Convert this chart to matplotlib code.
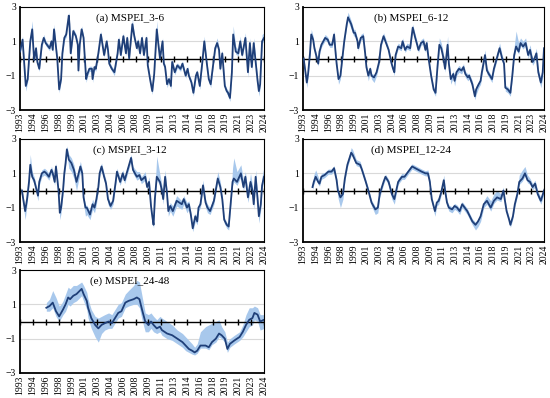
import matplotlib
matplotlib.use("Agg")
import matplotlib.pyplot as plt

plt.rcParams['font.family'] = ['Liberation Serif', 'DejaVu Serif']

# month index from Jan 1993; labels every 20 months
tick_pos = list(range(0, 381, 20))
tick_labels = ["1993", "1994", "1996", "1998", "1999", "2001", "2003", "2004", "2006", "2008",
               "2009", "2011", "2013", "2014", "2016", "2018", "2019", "2021", "2023", "2024"]

# (a) MSPEI_3-6
m_a = [0, 4, 9, 12, 16, 19, 22, 25, 27, 30,
       34, 37, 40, 46, 49, 51, 53, 58, 61, 64,
       66, 69, 72, 76, 77, 79, 83, 87, 90, 91,
       93, 96, 99, 103, 105, 108, 112, 113, 116, 118,
       122, 126, 131, 135, 137, 139, 143, 147, 152, 154,
       157, 161, 165, 167, 170, 175, 178, 182, 184, 187,
       190, 193, 197, 199, 203, 206, 209, 213, 215, 218,
       222, 224, 226, 229, 232, 235, 237, 241, 245, 250,
       253, 258, 261, 263, 267, 270, 274, 276, 280, 284,
       287, 291, 294, 297, 304, 307, 310, 312, 315, 319,
       322, 324, 327, 330, 332, 336, 340, 343, 346, 351,
       355, 358, 361, 364, 367, 370, 372, 374, 377, 380]
v_a = [0.4, 1.1, -1.6, -1.2, 1.0, 1.7, -0.1, 0.6, -0.2, -0.6,
       0.8, 1.2, 0.9, 0.6, 1.0, 0.5, 1.7, 0.0, -1.8, -1.2,
       0.3, 1.2, 1.4, 2.5, 2.0, 0.3, 1.6, 1.3, 0.8, -0.7,
       0.8, 1.7, 1.2, -1.2, -0.9, -0.6, -0.6, -1.2, -0.5, -0.6,
       0.3, 1.4, 0.2, 1.0, 0.5, -0.3, -0.6, -0.8, 0.3, 1.1,
       0.2, 1.3, 0.3, 1.2, 0.0, 2.0, 1.3, 0.6, 1.0, 0.3,
       1.2, 0.2, 1.2, -0.4, -1.3, -1.9, -0.9, 1.7, 1.0, 0.0,
       1.0, -0.3, -0.5, -1.5, -1.2, -1.6, -0.2, -0.8, -0.4, -0.6,
       -0.3, -1.0, -0.6, -1.0, -1.4, -2.0, -1.0, -0.8, -1.6, -0.2,
       1.0, -0.3, -1.2, -1.5, 0.6, 0.9, 0.5, -0.6, 0.3, -1.6,
       -1.9, -2.0, -2.3, -0.8, 1.4, 0.4, 0.3, 1.0, 0.2, 1.2,
       -0.8, 0.9, -0.5, 0.9, -0.2, -1.3, -1.9, -1.5, 1.0, 1.2]
hi_a = [0.15, 0.2, 0.2, 0.15, 0.3, 0.5, 0.15, 0.15, 0.15, 0.15,
        0.2, 0.2, 0.15, 0.15, 0.15, 0.15, 0.3, 0.15, 0.15, 0.15,
        0.15, 0.2, 0.2, 0.2, 0.2, 0.15, 0.15, 0.15, 0.15, 0.15,
        0.15, 0.2, 0.15, 0.15, 0.15, 0.15, 0.15, 0.2, 0.15, 0.15,
        0.15, 0.2, 0.15, 0.15, 0.15, 0.15, 0.15, 0.15, 0.15, 0.2,
        0.15, 0.2, 0.15, 0.2, 0.15, 0.3, 0.15, 0.15, 0.2, 0.15,
        0.2, 0.15, 0.2, 0.15, 0.15, 0.15, 0.15, 0.5, 0.2, 0.15,
        0.2, 0.15, 0.15, 0.15, 0.15, 0.15, 0.2, 0.15, 0.15, 0.15,
        0.15, 0.15, 0.15, 0.15, 0.15, 0.15, 0.15, 0.15, 0.15, 0.15,
        0.3, 0.15, 0.15, 0.15, 0.2, 0.3, 0.15, 0.15, 0.2, 0.15,
        0.15, 0.15, 0.15, 0.2, 0.5, 0.3, 0.2, 0.3, 0.2, 0.3,
        0.2, 0.3, 0.2, 0.3, 0.2, 0.2, 0.15, 0.2, 0.4, 0.3]
lo_a = [0.15, 0.15, 0.3, 0.15, 0.15, 0.15, 0.15, 0.15, 0.15, 0.15,
        0.15, 0.15, 0.15, 0.15, 0.15, 0.15, 0.15, 0.15, 0.2, 0.15,
        0.15, 0.15, 0.15, 0.15, 0.15, 0.15, 0.15, 0.15, 0.15, 0.2,
        0.15, 0.15, 0.15, 0.2, 0.15, 0.15, 0.15, 0.2, 0.15, 0.15,
        0.15, 0.15, 0.15, 0.15, 0.15, 0.15, 0.15, 0.2, 0.15, 0.15,
        0.15, 0.15, 0.15, 0.15, 0.15, 0.15, 0.15, 0.15, 0.15, 0.15,
        0.15, 0.15, 0.15, 0.15, 0.2, 0.2, 0.15, 0.15, 0.15, 0.15,
        0.15, 0.15, 0.15, 0.2, 0.15, 0.2, 0.15, 0.15, 0.15, 0.15,
        0.15, 0.15, 0.15, 0.15, 0.15, 0.2, 0.15, 0.15, 0.2, 0.15,
        0.15, 0.15, 0.15, 0.2, 0.15, 0.15, 0.15, 0.15, 0.15, 0.2,
        0.15, 0.2, 0.2, 0.15, 0.15, 0.15, 0.15, 0.15, 0.15, 0.15,
        0.3, 0.15, 0.2, 0.15, 0.2, 0.2, 0.3, 0.2, 0.15, 0.15]

# (b) MSPEI_6-12
m_b = [1, 6, 8, 11, 13, 16, 18, 22, 24, 26,
       29, 32, 35, 39, 42, 46, 49, 51, 53, 56,
       59, 62, 65, 69, 71, 76, 80, 82, 86, 87,
       91, 95, 98, 100, 103, 106, 108, 112, 116, 120,
       123, 127, 130, 135, 139, 142, 144, 146, 150, 155,
       157, 161, 164, 169, 173, 177, 180, 182, 186, 190,
       193, 195, 198, 202, 206, 209, 212, 215, 218, 221,
       224, 228, 230, 233, 237, 239, 242, 246, 250, 253,
       256, 260, 262, 267, 271, 273, 277, 280, 282, 287,
       290, 293, 298, 301, 310, 314, 317, 319, 323, 327,
       330, 333, 336, 340, 343, 347, 351, 355, 358, 362,
       365, 368, 371, 375, 378, 380]
v_b = [0.0, -1.4, -0.9, 0.3, 1.4, 1.1, 0.6, 0.0, -0.3, 0.4,
       0.8, 1.0, 1.2, 1.1, 0.8, 0.8, 1.4, 0.5, -0.3, -1.2,
       -1.0, 0.0, 1.0, 2.0, 2.4, 2.0, 1.5, 1.5, 1.0, 0.6,
       1.2, 1.3, 0.3, -0.5, -1.0, -0.6, -1.0, -1.1, -0.8, -0.2,
       0.8, 1.3, 1.0, 0.5, -0.2, -0.6, -0.8, 0.2, 0.7, 0.6,
       1.0, 0.5, 0.7, 0.6, 1.8, 1.2, 0.8, 0.5, 0.9, 1.0,
       0.5, 0.9, 0.0, -1.0, -1.8, -2.0, -0.5, 0.8, 0.6, 0.1,
       -0.6, 0.8, -0.3, -1.2, -0.9, -1.3, -0.8, -0.6, -0.7, -0.5,
       -0.9, -1.1, -1.0, -1.5, -2.2, -1.8, -1.5, -1.3, -0.8, 0.2,
       -0.7, -0.9, -1.2, -0.6, 0.6, 0.0, -0.3, -1.7, -1.8, -2.0,
       -1.0, 0.2, 0.7, 0.4, 0.9, 0.7, 0.9, 0.2, 0.5, -0.2,
       0.0, 0.3, -0.8, -1.4, -0.8, 0.6]
hi_b = [0.1, 0.15, 0.15, 0.2, 0.3, 0.2, 0.15, 0.15, 0.15, 0.15,
        0.15, 0.2, 0.2, 0.15, 0.15, 0.2, 0.2, 0.15, 0.15, 0.15,
        0.15, 0.15, 0.2, 0.3, 0.3, 0.2, 0.2, 0.2, 0.15, 0.15,
        0.2, 0.2, 0.15, 0.15, 0.15, 0.15, 0.15, 0.15, 0.15, 0.15,
        0.2, 0.2, 0.2, 0.15, 0.15, 0.15, 0.15, 0.15, 0.2, 0.15,
        0.2, 0.15, 0.2, 0.2, 0.2, 0.2, 0.2, 0.2, 0.2, 0.2,
        0.15, 0.2, 0.15, 0.15, 0.15, 0.15, 0.2, 0.4, 0.3, 0.3,
        0.2, 0.5, 0.2, 0.15, 0.2, 0.15, 0.2, 0.2, 0.15, 0.2,
        0.15, 0.2, 0.15, 0.2, 0.15, 0.2, 0.15, 0.2, 0.2, 0.3,
        0.2, 0.15, 0.15, 0.2, 0.3, 0.2, 0.2, 0.15, 0.15, 0.15,
        0.2, 0.5, 0.9, 0.5, 0.3, 0.3, 0.3, 0.2, 0.3, 0.2,
        0.2, 0.3, 0.2, 0.2, 0.3, 0.3]
lo_b = [0.15, 0.3, 0.2, 0.15, 0.15, 0.15, 0.15, 0.15, 0.15, 0.15,
        0.15, 0.15, 0.15, 0.15, 0.15, 0.15, 0.15, 0.15, 0.15, 0.3,
        0.2, 0.15, 0.15, 0.15, 0.2, 0.3, 0.2, 0.2, 0.2, 0.15,
        0.15, 0.15, 0.15, 0.2, 0.3, 0.2, 0.2, 0.3, 0.2, 0.15,
        0.15, 0.15, 0.15, 0.15, 0.15, 0.15, 0.2, 0.15, 0.15, 0.15,
        0.15, 0.15, 0.15, 0.15, 0.15, 0.15, 0.15, 0.15, 0.15, 0.15,
        0.15, 0.15, 0.15, 0.15, 0.2, 0.2, 0.2, 0.15, 0.15, 0.15,
        0.2, 0.15, 0.2, 0.3, 0.2, 0.3, 0.2, 0.2, 0.2, 0.2,
        0.2, 0.2, 0.2, 0.2, 0.2, 0.3, 0.2, 0.2, 0.2, 0.15,
        0.2, 0.2, 0.2, 0.15, 0.15, 0.15, 0.2, 0.2, 0.2, 0.2,
        0.2, 0.15, 0.15, 0.15, 0.15, 0.15, 0.15, 0.2, 0.15, 0.2,
        0.2, 0.15, 0.3, 0.3, 0.3, 0.2]

# (c) MSPEI_3-12
m_c = [3, 5, 8, 11, 14, 16, 19, 22, 28, 30,
       34, 38, 41, 45, 49, 51, 54, 56, 60, 62,
       64, 67, 69, 71, 73, 76, 80, 84, 88, 94,
       97, 99, 102, 104, 109, 113, 116, 119, 122, 124,
       127, 131, 134, 137, 141, 145, 149, 151, 156, 160,
       163, 173, 176, 182, 186, 189, 195, 198, 201, 204,
       206, 208, 210, 213, 218, 221, 223, 226, 229, 231,
       234, 238, 244, 252, 255, 260, 263, 266, 269, 273,
       276, 278, 281, 285, 289, 292, 296, 302, 308, 312,
       315, 318, 322, 325, 328, 331, 333, 338, 344, 348,
       351, 355, 359, 362, 364, 367, 370, 372, 375, 377,
       380]
v_c = [0.0, -0.5, -1.2, -0.5, 0.5, 1.5, 0.8, 0.6, -0.3, 0.5,
       1.0, 1.1, 1.0, 0.8, 1.2, 1.0, 0.5, 1.4, 0.0, -1.3,
       -1.0, 0.0, 1.0, 1.6, 2.4, 1.8, 1.6, 1.2, 0.5, 1.4,
       1.0, -0.4, -1.0, -1.0, -1.4, -0.8, -1.0, -0.5, 0.2, 1.0,
       1.4, 0.8, 0.4, -0.5, -0.9, -0.6, 0.5, 1.1, 0.5, 1.0,
       0.6, 1.9, 1.2, 0.8, 0.9, 0.6, 0.8, 0.2, 0.5, -0.9,
       -1.5, -2.0, -0.5, 0.8, 0.5, 0.0, -0.5, 0.8, -0.2, -1.2,
       -0.9, -1.2, -0.6, -0.8, -0.5, -1.0, -0.8, -1.4, -2.2, -1.5,
       -1.8, -1.0, -0.8, 0.3, -0.7, -1.0, -1.2, -0.6, 0.7, 0.2,
       -0.5, -1.7, -2.0, -2.1, -0.8, 0.5, 0.7, 0.5, 1.0, 0.2,
       0.8, -0.4, 0.5, 0.0, -0.8, 0.8, -0.5, -1.5, -0.8, 0.3,
       0.8]
hi_c = [0.15, 0.15, 0.15, 0.2, 0.3, 0.6, 0.3, 0.2, 0.15, 0.2,
        0.2, 0.2, 0.2, 0.2, 0.2, 0.2, 0.2, 0.2, 0.15, 0.15,
        0.15, 0.2, 0.2, 0.3, 0.2, 0.3, 0.3, 0.3, 0.2, 0.3,
        0.2, 0.15, 0.15, 0.15, 0.2, 0.3, 0.2, 0.2, 0.2, 0.2,
        0.2, 0.2, 0.2, 0.15, 0.15, 0.15, 0.2, 0.2, 0.2, 0.2,
        0.2, 0.2, 0.2, 0.3, 0.2, 0.2, 0.3, 0.2, 0.3, 0.15,
        0.15, 0.15, 0.5, 1.2, 0.4, 0.3, 0.2, 0.4, 0.2, 0.15,
        0.2, 0.3, 0.3, 0.2, 0.2, 0.3, 0.2, 0.2, 0.15, 0.2,
        0.2, 0.2, 0.2, 0.3, 0.2, 0.2, 0.2, 0.3, 0.4, 0.3,
        0.2, 0.15, 0.15, 0.15, 0.2, 0.8, 1.2, 0.6, 0.5, 0.4,
        0.3, 0.3, 0.5, 0.3, 0.3, 0.4, 0.3, 0.2, 0.3, 0.5,
        0.6]
lo_c = [0.2, 0.3, 0.5, 0.3, 0.2, 0.2, 0.2, 0.2, 0.3, 0.2,
        0.2, 0.2, 0.2, 0.2, 0.2, 0.2, 0.2, 0.2, 0.3, 0.4,
        0.3, 0.2, 0.2, 0.2, 0.2, 0.5, 0.5, 0.5, 0.5, 0.3,
        0.3, 0.4, 0.5, 0.4, 0.3, 0.3, 0.3, 0.3, 0.2, 0.2,
        0.2, 0.2, 0.2, 0.3, 0.2, 0.2, 0.2, 0.2, 0.2, 0.2,
        0.2, 0.2, 0.2, 0.2, 0.2, 0.2, 0.2, 0.2, 0.2, 0.3,
        0.3, 0.2, 0.3, 0.2, 0.2, 0.2, 0.3, 0.2, 0.3, 0.3,
        0.3, 0.3, 0.3, 0.3, 0.3, 0.3, 0.3, 0.3, 0.2, 0.3,
        0.2, 0.2, 0.2, 0.2, 0.3, 0.3, 0.2, 0.2, 0.2, 0.2,
        0.3, 0.2, 0.2, 0.2, 0.2, 0.2, 0.2, 0.2, 0.2, 0.2,
        0.3, 0.3, 0.3, 0.3, 0.3, 0.3, 0.3, 0.4, 0.3, 0.2,
        0.2]

# (d) MSPEI_12-24
m_d = [15, 17, 20, 24, 26, 29, 34, 40, 45, 49,
       53, 55, 59, 63, 66, 70, 76, 78, 84, 90,
       93, 99, 103, 108, 114, 118, 121, 127, 130, 135,
       140, 144, 147, 150, 156, 160, 172, 177, 182, 187,
       193, 197, 200, 203, 208, 211, 214, 218, 222, 224,
       227, 230, 235, 239, 243, 247, 251, 259, 267, 272,
       276, 280, 285, 290, 296, 301, 306, 312, 316, 318,
       321, 325, 327, 331, 334, 338, 341, 346, 350, 354,
       358, 362, 366, 370, 375, 380]
v_d = [0.2, 0.5, 0.8, 0.5, 0.4, 0.8, 0.9, 1.1, 1.1, 1.3,
       0.6, 0.0, -0.4, -0.2, 0.7, 1.5, 2.2, 2.1, 1.6, 1.5,
       1.2, 0.5, 0.0, -0.7, -1.1, -1.0, -0.2, 0.5, 0.8, 0.5,
       -0.2, -0.5, 0.0, 0.5, 0.8, 0.8, 1.4, 1.3, 1.2, 1.1,
       1.0, 1.0, 0.5, -0.5, -1.2, -0.7, -0.6, -0.1, 0.6, 0.0,
       -0.7, -1.0, -1.1, -0.9, -1.0, -1.2, -0.8, -1.2, -1.8, -2.0,
       -1.8, -1.5, -0.8, -0.6, -1.0, -0.6, -0.4, -0.5, 0.0, -0.5,
       -1.2, -1.7, -2.0, -1.5, -0.8, -0.2, 0.5, 0.7, 1.0, 0.6,
       0.5, 0.2, 0.4, -0.2, -0.6, 0.0]
hi_d = [0.2, 0.4, 0.4, 0.3, 0.2, 0.2, 0.15, 0.15, 0.15, 0.15,
        0.15, 0.15, 0.15, 0.15, 0.2, 0.2, 0.3, 0.3, 0.2, 0.2,
        0.15, 0.15, 0.15, 0.15, 0.15, 0.15, 0.15, 0.15, 0.15, 0.15,
        0.15, 0.15, 0.2, 0.2, 0.2, 0.15, 0.15, 0.15, 0.15, 0.15,
        0.15, 0.2, 0.2, 0.15, 0.15, 0.2, 0.2, 0.2, 0.3, 0.2,
        0.15, 0.15, 0.15, 0.15, 0.15, 0.15, 0.15, 0.15, 0.15, 0.15,
        0.15, 0.15, 0.2, 0.3, 0.4, 0.4, 0.4, 0.3, 0.2, 0.15,
        0.15, 0.15, 0.15, 0.15, 0.2, 0.3, 0.4, 0.5, 0.4, 0.3,
        0.2, 0.2, 0.2, 0.2, 0.2, 0.2]
lo_d = [0.15, 0.15, 0.15, 0.15, 0.15, 0.15, 0.15, 0.15, 0.15, 0.15,
        0.2, 0.4, 0.6, 0.3, 0.15, 0.15, 0.15, 0.15, 0.15, 0.15,
        0.15, 0.15, 0.15, 0.2, 0.3, 0.3, 0.2, 0.15, 0.15, 0.2,
        0.3, 0.3, 0.2, 0.15, 0.15, 0.15, 0.15, 0.15, 0.15, 0.15,
        0.15, 0.15, 0.15, 0.2, 0.3, 0.2, 0.2, 0.15, 0.15, 0.2,
        0.2, 0.2, 0.2, 0.2, 0.2, 0.2, 0.2, 0.2, 0.2, 0.3,
        0.3, 0.3, 0.2, 0.2, 0.2, 0.15, 0.15, 0.15, 0.15, 0.15,
        0.15, 0.15, 0.15, 0.15, 0.15, 0.15, 0.15, 0.15, 0.15, 0.15,
        0.15, 0.15, 0.2, 0.2, 0.2, 0.2]

# (e) MSPEI_24-48
m_e = [41, 46, 51, 56, 61, 64, 67, 71, 75, 78,
       83, 88, 96, 99, 104, 106, 111, 117, 122, 127,
       132, 138, 143, 148, 153, 158, 164, 169, 177, 182,
       186, 190, 195, 200, 204, 208, 213, 218, 221, 229,
       237, 245, 253, 258, 263, 268, 272, 276, 281, 289,
       294, 299, 305, 310, 314, 319, 323, 327, 334, 342,
       347, 352, 357, 362, 365, 370, 374, 380]
v_e = [0.8, 0.9, 1.1, 0.6, 0.3, 0.5, 0.7, 1.0, 1.4, 1.3,
       1.5, 1.6, 1.9, 1.6, 1.2, 0.8, 0.2, -0.2, -0.4, -0.2,
       -0.1, 0.0, -0.1, 0.2, 0.5, 0.6, 1.1, 1.2, 1.3, 1.4,
       1.3, 0.7, 0.0, -0.2, 0.0, -0.2, -0.4, -0.3, -0.5, -0.7,
       -0.8, -1.0, -1.2, -1.4, -1.6, -1.7, -1.8, -1.7, -1.4, -1.4,
       -1.5, -1.2, -1.0, -0.7, -0.8, -1.0, -1.6, -1.3, -1.1, -0.9,
       -0.6, -0.2, 0.1, 0.2, 0.5, 0.4, 0.0, 0.1]
hi_e = [0.3, 0.4, 0.7, 0.8, 0.6, 0.5, 0.5, 0.6, 0.6, 0.6,
        0.6, 0.5, 0.4, 0.5, 0.5, 0.5, 0.5, 0.5, 0.6, 0.5,
        0.5, 0.5, 0.5, 0.5, 0.5, 0.5, 0.5, 0.6, 0.8, 1.0,
        1.0, 0.8, 0.5, 0.6, 0.5, 0.5, 0.5, 0.6, 0.7, 0.7,
        0.6, 0.5, 0.5, 0.5, 0.5, 0.4, 0.3, 0.4, 0.8, 1.1,
        1.3, 1.1, 1.0, 0.8, 0.5, 0.4, 0.4, 0.3, 0.3, 0.3,
        0.4, 0.6, 0.7, 0.6, 0.4, 0.4, 0.4, 0.3]
lo_e = [0.2, 0.3, 0.3, 0.3, 0.3, 0.3, 0.3, 0.4, 0.4, 0.4,
        0.4, 0.4, 0.4, 0.4, 0.5, 0.6, 0.6, 0.7, 0.8, 0.5,
        0.4, 0.4, 0.3, 0.3, 0.3, 0.3, 0.3, 0.3, 0.3, 0.4,
        0.5, 0.6, 0.6, 0.4, 0.4, 0.4, 0.3, 0.3, 0.3, 0.3,
        0.3, 0.3, 0.3, 0.3, 0.2, 0.2, 0.15, 0.15, 0.15, 0.15,
        0.15, 0.15, 0.2, 0.2, 0.2, 0.2, 0.2, 0.2, 0.2, 0.2,
        0.3, 0.4, 0.4, 0.4, 0.4, 0.4, 0.5, 0.5]

panels = [
    ("(a) MSPEI_3-6", m_a, v_a, lo_a, hi_a, [20, 110, 244, 103]),
    ("(b) MSPEI_6-12", m_b, v_b, lo_b, hi_b, [303, 110, 241, 103]),
    ("(c) MSPEI_3-12", m_c, v_c, lo_c, hi_c, [20, 242, 244, 103]),
    ("(d) MSPEI_12-24", m_d, v_d, lo_d, hi_d, [303, 242, 241, 103]),
    ("(e) MSPEI_24-48", m_e, v_e, lo_e, hi_e, [20, 373, 244, 103]),
]

line_col = "#1f3f78"
band_col = "#a8c8ec"
W, H = 550, 398

fig = plt.figure(figsize=(5.5, 3.98), dpi=100)

for title, m, v, lo, hi, (x0, yb, w, h) in panels:
    ax = fig.add_axes([x0 / W, 1 - yb / H, w / W, h / H])
    lower = [a - b for a, b in zip(v, lo)]
    upper = [a + b for a, b in zip(v, hi)]
    ax.fill_between(m, lower, upper, color=band_col, lw=0, zorder=1)
    ax.plot(m, v, color=line_col, lw=1.3, zorder=3)

    for y in (1, -1):
        ax.axhline(y, color="#d9d9d9", lw=0.8, zorder=0)
    ax.axhline(0, color="black", lw=1.0, zorder=2)
    # tick marks crossing the zero line
    ax.plot(tick_pos, [0] * len(tick_pos), ls="none", marker="|",
            ms=5, mew=1.0, color="black", zorder=2)

    ax.set_xlim(0, 380)
    ax.set_ylim(-3, 3)
    ax.set_yticks([3, 1, -1, -3])
    ax.set_xticks(tick_pos)
    ax.set_xticklabels(tick_labels, rotation=90)
    ax.tick_params(axis="x", length=0, pad=2, labelsize=7)
    ax.tick_params(axis="y", length=0, pad=3, labelsize=7)
    for side in ("left", "bottom"):
        ax.spines[side].set_linewidth(1.3)
    for side in ("top", "right"):
        ax.spines[side].set_linewidth(0.8)

    ax.text(0.45, 0.94, title, transform=ax.transAxes, ha="center", va="top",
            fontsize=8)

fig.savefig("out.png", dpi=100)
